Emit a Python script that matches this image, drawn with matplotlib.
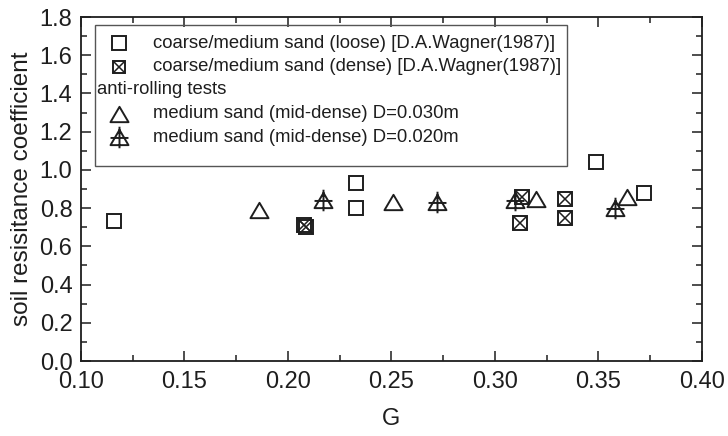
import numpy as np
import matplotlib
matplotlib.use("Agg")
import matplotlib.pyplot as plt
from matplotlib.path import Path
from matplotlib.patches import Rectangle
from matplotlib.ticker import MultipleLocator

plt.rcParams['font.family'] = ['Liberation Sans', 'DejaVu Sans']

# Soil resistance coefficient vs. G
G_loose = [0.116, 0.233, 0.233, 0.349, 0.372]
c_loose = [0.73, 0.93, 0.80, 1.04, 0.88]

G_dense = [0.208, 0.209, 0.313, 0.312, 0.334, 0.334]
c_dense = [0.71, 0.70, 0.86, 0.72, 0.85, 0.75]

G_d30 = [0.186, 0.251, 0.320, 0.364]
c_d30 = [0.79, 0.83, 0.85, 0.86]

G_d20 = [0.217, 0.272, 0.310, 0.358]
c_d20 = [0.84, 0.83, 0.84, 0.80]

labels = ["coarse/medium sand (loose) [D.A.Wagner(1987)]",
          "coarse/medium sand (dense) [D.A.Wagner(1987)]",
          "medium sand (mid-dense) D=0.030m",
          "medium sand (mid-dense) D=0.020m"]
group_title = "anti-rolling tests"

ink = "#1e1e1e"

# custom markers: open triangle, triangle with a cross through it
tri = Path([(-1, -0.85), (1, -0.85), (0, 0.85), (-1, -0.85)],
           [Path.MOVETO, Path.LINETO, Path.LINETO, Path.CLOSEPOLY])
tri_cross = Path([(-1, -0.85), (1, -0.85), (0, 0.85), (-1, -0.85),
                  (0, 1.2), (0, -1.2), (-1, -0.05), (1, -0.05)],
                 [Path.MOVETO, Path.LINETO, Path.LINETO, Path.CLOSEPOLY,
                  Path.MOVETO, Path.LINETO, Path.MOVETO, Path.LINETO])

sq_style = dict(ls="none", marker="s", ms=10, mfc="none", mec=ink, mew=1.4)
x_style = dict(ls="none", marker="x", ms=10, mec=ink, mew=1.1)
tri_style = dict(ls="none", marker=tri, ms=13, mfc="none", mec=ink, mew=1.4)
tcr_style = dict(ls="none", marker=tri_cross, ms=15.5, mfc="none", mec=ink, mew=1.4)

fig = plt.figure(figsize=(7.28, 4.36), dpi=100)
ax = fig.add_axes([0.111, 0.172, 0.853, 0.789])

ax.plot(G_loose, c_loose, **sq_style)
ax.plot(G_dense, c_dense, **sq_style)
ax.plot(G_dense, c_dense, **x_style)
ax.plot(G_d30, c_d30, **tri_style)
ax.plot(G_d20, c_d20, **tcr_style)

ax.set_xlim(0.10, 0.40)
ax.set_ylim(0.0, 1.8)
ax.xaxis.set_major_locator(MultipleLocator(0.05))
ax.xaxis.set_minor_locator(MultipleLocator(0.025))
ax.yaxis.set_major_locator(MultipleLocator(0.2))
ax.yaxis.set_minor_locator(MultipleLocator(0.1))
ax.xaxis.set_major_formatter(plt.FormatStrFormatter("%.2f"))
ax.yaxis.set_major_formatter(plt.FormatStrFormatter("%.1f"))
ax.tick_params(which="both", direction="in", top=True, right=True,
               color=ink, width=1.1, labelsize=17, labelcolor=ink)
ax.tick_params(which="major", length=7)
ax.tick_params(which="minor", length=4)
ax.tick_params(axis="x", which="major", pad=7)
ax.tick_params(axis="y", which="major", pad=6)
for s in ax.spines.values():
    s.set_linewidth(1.3)
    s.set_color(ink)

ax.set_xlabel("G", fontsize=17, color=ink, labelpad=11)
ax.set_ylabel("soil resisitance coefficient", fontsize=17.5, color=ink, labelpad=5)

# legend box drawn by hand so the group title can sit flush left
ax.add_patch(Rectangle((0.0225, 0.567), 0.760, 0.41, transform=ax.transAxes,
                       fill=False, ec="#555555", lw=1.0, zorder=5))
rows = [0.924, 0.856, 0.788, 0.719, 0.651]
mx, tx = 0.061, 0.116
kw = dict(transform=ax.transAxes, clip_on=False, zorder=6)
ax.plot([mx], [rows[0]], **sq_style, **kw)
ax.plot([mx], [rows[1]], **{**sq_style, "ms": 8.5}, **kw)
ax.plot([mx], [rows[1]], **{**x_style, "ms": 8.5}, **kw)
ax.plot([mx], [rows[3]], **tri_style, **kw)
ax.plot([mx], [rows[4]], **tcr_style, **kw)
for r, lab in zip([rows[0], rows[1], rows[3], rows[4]], labels):
    ax.text(tx, r, lab, transform=ax.transAxes, va="center", ha="left",
            fontsize=13.3, color=ink, zorder=6)
ax.text(0.026, rows[2], group_title, transform=ax.transAxes, va="center",
        ha="left", fontsize=13.3, color=ink, zorder=6)

fig.savefig("out.png", dpi=100)
